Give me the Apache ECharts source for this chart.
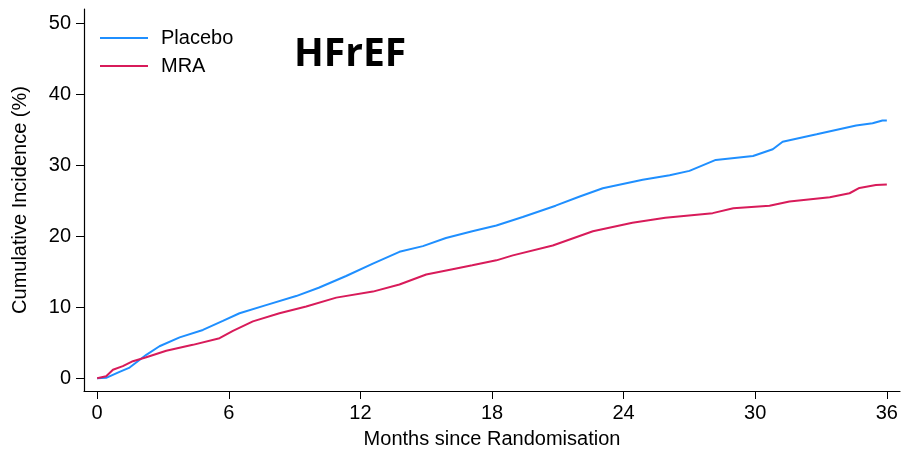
<!DOCTYPE html>
<html>
<head>
<meta charset="utf-8">
<script src="https://cdn.jsdelivr.net/npm/echarts@6/dist/echarts.min.js"></script>
<style>
  html, body { margin: 0; padding: 0; background: #fff; }
  #chart { width: 905px; height: 454px; }
</style>
</head>
<body>
<div id="chart"></div>
<script>
// values (months, cumulative incidence %)
const placeboMonths = [0, 0.41, 1.02, 1.48, 2.24, 2.84, 3.76, 4.82, 5.73, 6.49, 7.7, 9.07, 10.1, 11.35, 12.57, 13.78, 14.85, 15.9, 17.1, 18.2, 19.4, 20.9, 22.0, 23.05, 24.87, 26.1, 27.0, 28.2, 29.9, 30.8, 31.25, 32.8, 34.6, 35.35, 35.8, 36]
const placeboValues = [0, 0.05, 0.9, 1.5, 3.3, 4.5, 5.75, 6.8, 8.07, 9.15, 10.3, 11.57, 12.74, 14.4, 16.15, 17.8, 18.6, 19.75, 20.7, 21.5, 22.7, 24.3, 25.6, 26.75, 27.95, 28.6, 29.2, 30.75, 31.3, 32.25, 33.3, 34.35, 35.6, 35.9, 36.3, 36.3]

const mraMonths = [0, 0.41, 0.72, 1.17, 1.63, 2.24, 3.15, 4.36, 5.58, 6.19, 7.1, 8.31, 9.53, 10.9, 12.57, 13.78, 15, 16.2, 17.1, 18.2, 18.95, 20.77, 22.6, 24.4, 25.9, 28.06, 29, 30.65, 31.56, 33.4, 34.3, 34.75, 35.5, 36]
const mraValues = [0, 0.28, 1.2, 1.7, 2.4, 2.95, 3.87, 4.7, 5.64, 6.67, 8.0, 9.15, 10.1, 11.35, 12.2, 13.2, 14.6, 15.35, 15.9, 16.6, 17.3, 18.7, 20.7, 21.9, 22.6, 23.25, 23.95, 24.3, 24.9, 25.5, 26.05, 26.8, 27.2, 27.3]

const xTicks = [0, 6, 12, 18, 24, 30, 36]
const yTicks = [0, 10, 20, 30, 40, 50]

const font = 'Liberation Sans'

function pairs(xs, ys) {
  return xs.map((x, i) => [x, ys[i]])
}

const chart = echarts.init(document.getElementById('chart'), null, { renderer: 'canvas' })

chart.setOption({
  animation: false,
  backgroundColor: '#fff',
  grid: { left: 84, right: 5, top: 9, bottom: 61 },
  legend: {
    orient: 'vertical',
    left: 100,
    top: 28,
    padding: 0,
    icon: 'rect',
    itemWidth: 48,
    itemHeight: 2,
    itemGap: 8,
    textStyle: { fontFamily: font, fontSize: 20, lineHeight: 14, color: '#000', padding: [0, 0, 0, 8] },
    data: ['Placebo', 'MRA']
  },
  graphic: [{
    type: 'text',
    left: 294,
    top: 35,
    style: { text: 'HFrEF', font: 'bold 39px "Open Sans"', fill: '#000' }
  }],
  xAxis: {
    type: 'value',
    min: -0.6,
    max: 36.6,
    name: 'Months since Randomisation',
    nameLocation: 'middle',
    nameGap: 38,
    nameTextStyle: { fontFamily: font, fontSize: 20, color: '#000' },
    axisLine: { show: true, onZero: false, lineStyle: { color: '#000', width: 1.2 } },
    axisTick: { show: true, length: 8, customValues: xTicks, lineStyle: { color: '#000' } },
    axisLabel: { customValues: xTicks, margin: 12, fontFamily: font, fontSize: 20, color: '#000' },
    splitLine: { show: false }
  },
  yAxis: {
    type: 'value',
    min: -1.8,
    max: 52,
    name: 'Cumulative Incidence (%)',
    nameLocation: 'middle',
    nameGap: 54,
    nameTextStyle: { fontFamily: font, fontSize: 20, color: '#000' },
    axisLine: { show: true, onZero: false, lineStyle: { color: '#000', width: 1.2 } },
    axisTick: { show: true, length: 8, customValues: yTicks, lineStyle: { color: '#000' } },
    axisLabel: { customValues: yTicks, margin: 13, fontFamily: font, fontSize: 20, color: '#000' },
    splitLine: { show: false }
  },
  series: [
    {
      name: 'Placebo',
      type: 'line',
      symbol: 'none',
      data: pairs(placeboMonths, placeboValues),
      lineStyle: { color: '#1f8fff', width: 2 },
      itemStyle: { color: '#1f8fff' }
    },
    {
      name: 'MRA',
      type: 'line',
      symbol: 'none',
      data: pairs(mraMonths, mraValues),
      lineStyle: { color: '#d81b5a', width: 2 },
      itemStyle: { color: '#d81b5a' }
    }
  ]
})
</script>
</body>
</html>
